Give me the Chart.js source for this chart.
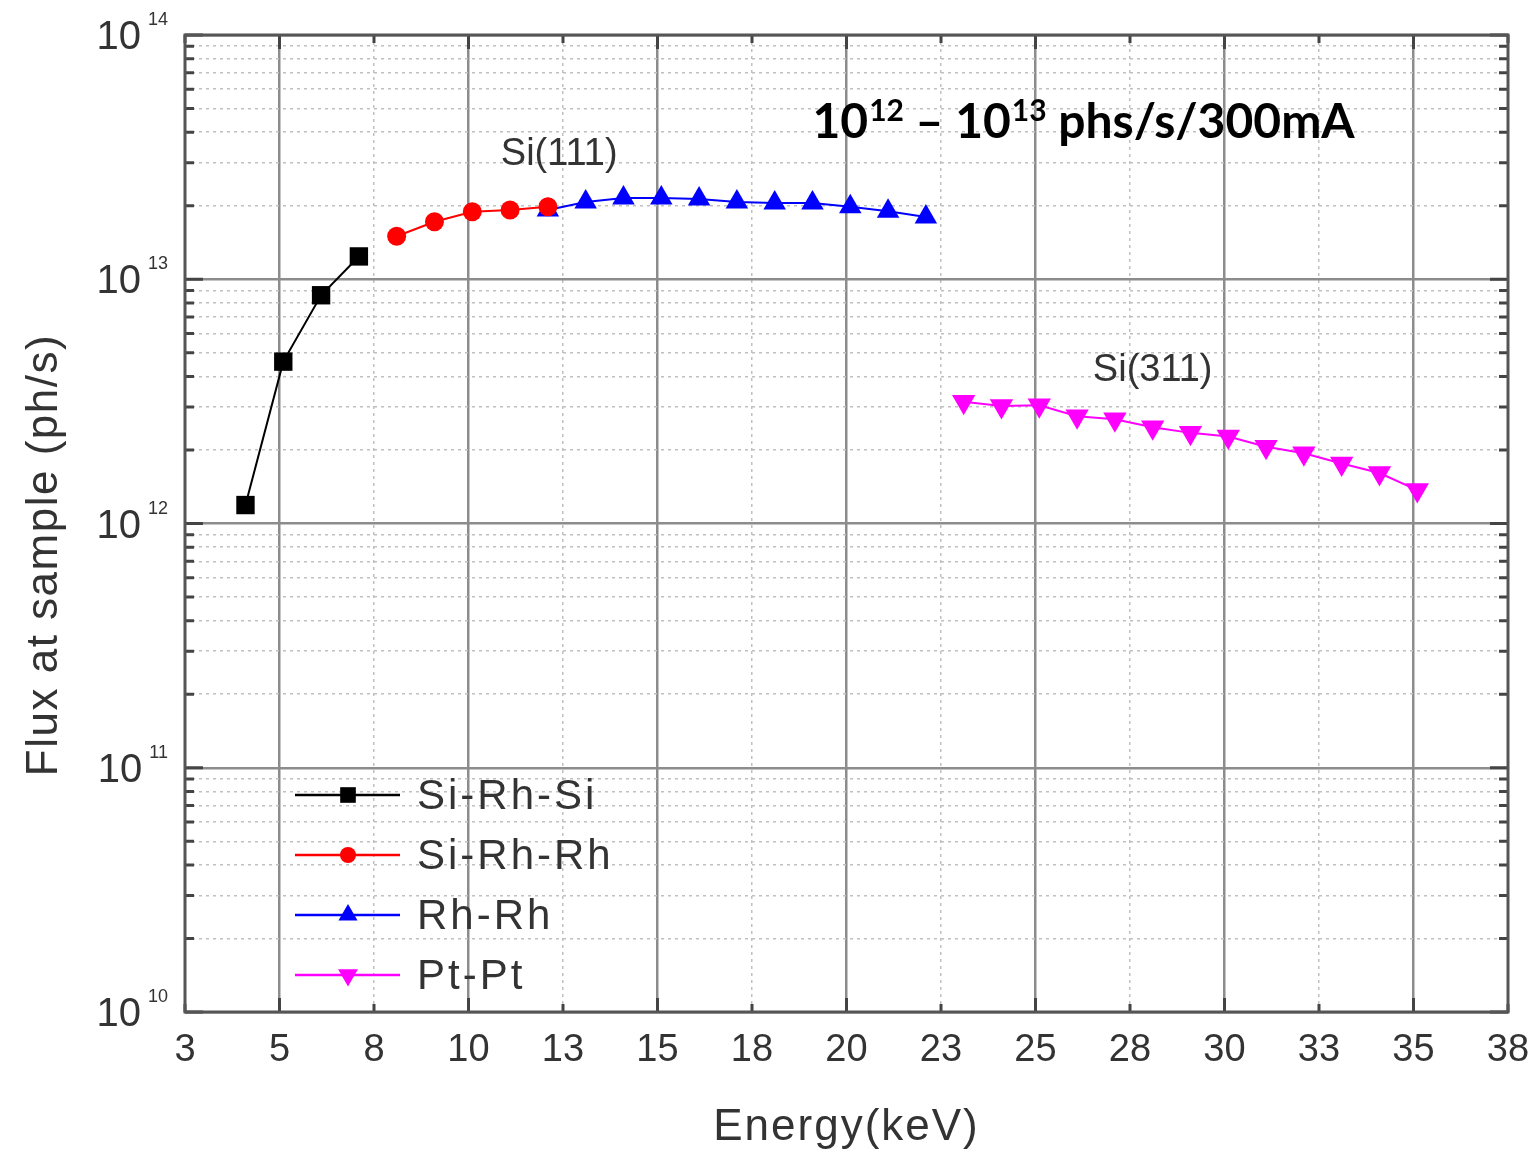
<!DOCTYPE html>
<html>
<head>
<meta charset="utf-8">
<title>Flux at sample</title>
<script src="https://cdn.jsdelivr.net/npm/chart.js@4.4.1/dist/chart.umd.min.js"></script>
<style>
  html, body { margin: 0; padding: 0; background: #fff; }
  canvas { display: block; }
</style>
</head>
<body>
<canvas id="fluxChart" width="1537" height="1152"></canvas>
<script>
// values (energy in keV, flux in ph/s)
const siRhSiEnergy = [4.1, 5.1, 6.1, 7.1];
const siRhSiFlux = [1.19e12, 4.6e12, 8.6e12, 1.24e13];

const siRhRhEnergy = [8.1, 9.1, 10.1, 11.1, 12.1];
const siRhRhFlux = [1.5e13, 1.72e13, 1.89e13, 1.92e13, 1.98e13];

const rhRhEnergy = [12.1, 13.1, 14.1, 15.1, 16.1, 17.1, 18.1, 19.1, 20.1, 21.1, 22.1];
const rhRhFlux = [1.92e13, 2.07e13, 2.15e13, 2.15e13, 2.13e13, 2.07e13, 2.05e13, 2.05e13, 1.98e13, 1.9e13, 1.8e13];

const ptPtEnergy = [23.1, 24.1, 25.1, 26.1, 27.1, 28.1, 29.1, 30.1, 31.1, 32.1, 33.1, 34.1, 35.1];
const ptPtFlux = [3.15e12, 3.03e12, 3.05e12, 2.75e12, 2.67e12, 2.48e12, 2.35e12, 2.27e12, 2.06e12, 1.94e12, 1.76e12, 1.61e12, 1.37e12];

const seriesNames = ["Si-Rh-Si", "Si-Rh-Rh", "Rh-Rh", "Pt-Pt"];
const seriesColors = ["#000000", "#ff0000", "#0000ff", "#ff00ff"];

// axis ranges and ticks
const xMin = 2.5;
const xMax = 37.5;
const xStep = 2.5;
const yDecades = [10, 11, 12, 13, 14];

// text placed on the plot, in data coordinates
const crystalLabels = ["Si(111)", "Si(311)"];
const crystalLabelEnergy = [12.4, 28.1];
const crystalLabelFlux = [3.25e13, 4.25e12];
const rangeNoteEnergy = 19.1;
const rangeNoteFlux = 3.8e13;

const TEXT_COLOR = "#333333";
const SANS = "'Liberation Sans', Arial, sans-serif";

function toPoints(xs, ys) {
  return xs.map((x, i) => ({ x: x, y: ys[i] }));
}

function isDecade(v) {
  const l = Math.log10(v);
  return Math.abs(l - Math.round(l)) < 1e-9;
}

function isMajorX(v) {
  return Math.abs(v % 5) < 1e-9;
}

const markerStyles = [
  { pointStyle: "rect", radius: 13, rotation: 0 },
  { pointStyle: "circle", radius: 9.5, rotation: 0 },
  { pointStyle: "triangle", radius: 13, rotation: 0 },
  { pointStyle: "triangle", radius: 13.5, rotation: 180 },
];

function makeDataset(i, xs, ys) {
  return {
    label: seriesNames[i],
    data: toPoints(xs, ys),
    borderColor: seriesColors[i],
    backgroundColor: seriesColors[i],
    borderWidth: 2,
    pointStyle: markerStyles[i].pointStyle,
    pointRotation: markerStyles[i].rotation,
    pointRadius: markerStyles[i].radius,
    pointBorderWidth: 0,
    pointHoverRadius: markerStyles[i].radius,
    tension: 0,
  };
}

const decorPlugin = {
  id: "decor",
  afterDraw(chart) {
    const { ctx, chartArea, scales } = chart;
    const xs = scales.x;
    const ys = scales.y;
    const { left, right, top, bottom } = chartArea;

    ctx.save();

    // inward tick marks on all four sides
    ctx.strokeStyle = "#444";
    ctx.lineWidth = 3;
    ys.ticks.forEach((t) => {
      const y = ys.getPixelForValue(t.value);
      const len = isDecade(t.value) ? 18 : 9;
      ctx.beginPath();
      ctx.moveTo(left, y); ctx.lineTo(left + len, y);
      ctx.moveTo(right, y); ctx.lineTo(right - len, y);
      ctx.stroke();
    });
    xs.ticks.forEach((t) => {
      const x = xs.getPixelForValue(t.value);
      const len = isMajorX(t.value) ? 14 : 8;
      ctx.beginPath();
      ctx.moveTo(x, bottom); ctx.lineTo(x, bottom - len);
      ctx.moveTo(x, top); ctx.lineTo(x, top + len);
      ctx.stroke();
    });

    // frame
    ctx.strokeStyle = "#555";
    ctx.lineWidth = 3;
    ctx.strokeRect(left, top, right - left, bottom - top);

    // y tick labels with superscript exponents
    ctx.fillStyle = TEXT_COLOR;
    ctx.textBaseline = "alphabetic";
    ctx.textAlign = "left";
    yDecades.forEach((e) => {
      const y = ys.getPixelForValue(Math.pow(10, e));
      ctx.font = `40px ${SANS}`;
      const baseW = ctx.measureText("10").width;
      ctx.font = `18px ${SANS}`;
      const expW = ctx.measureText(String(e)).width;
      const x0 = 168 - expW - 7 - baseW;
      ctx.font = `40px ${SANS}`;
      ctx.fillText("10", x0, y + 14);
      ctx.font = `18px ${SANS}`;
      ctx.fillText(String(e), x0 + baseW + 7, y - 10);
    });

    // crystal labels
    ctx.font = `38px ${SANS}`;
    ctx.textAlign = "center";
    ctx.textBaseline = "middle";
    crystalLabels.forEach((txt, i) => {
      ctx.fillText(txt, xs.getPixelForValue(crystalLabelEnergy[i]), ys.getPixelForValue(crystalLabelFlux[i]));
    });

    // flux range note
    ctx.fillStyle = "#000";
    ctx.textAlign = "left";
    ctx.textBaseline = "alphabetic";
    const noteFont = "Lato, 'Open Sans', sans-serif";
    let nx = xs.getPixelForValue(rangeNoteEnergy);
    const ny = ys.getPixelForValue(rangeNoteFlux);
    const parts = [["10", "12"], [" \u2013 10", "13"]];
    parts.forEach(([b, s]) => {
      ctx.font = `bold 48px ${noteFont}`;
      ctx.fillText(b, nx, ny);
      nx += ctx.measureText(b).width;
      ctx.font = `bold 30px ${noteFont}`;
      ctx.fillText(s, nx + 1, ny - 17);
      nx += ctx.measureText(s).width + 1;
    });
    ctx.font = `bold 48px ${noteFont}`;
    ctx.fillText(" phs/s/300mA", nx, ny);

    // legend inside the plot
    ctx.font = `42px ${SANS}`;
    ctx.letterSpacing = "3px";
    ctx.textBaseline = "middle";
    seriesNames.forEach((name, i) => {
      const rowY = 795 + i * 60;
      ctx.strokeStyle = seriesColors[i];
      ctx.fillStyle = seriesColors[i];
      ctx.lineWidth = 2.5;
      ctx.beginPath();
      ctx.moveTo(295, rowY);
      ctx.lineTo(400, rowY);
      ctx.stroke();
      Chart.helpers.drawPoint(ctx, {
        pointStyle: markerStyles[i].pointStyle,
        rotation: markerStyles[i].rotation,
        radius: markerStyles[i].radius * 0.85,
        borderWidth: 0,
      }, 348, rowY);
      ctx.fillStyle = TEXT_COLOR;
      ctx.fillText(name, 417, rowY + 2);
    });

    // axis titles
    ctx.font = `44px ${SANS}`;
    ctx.letterSpacing = "2px";
    ctx.fillStyle = TEXT_COLOR;
    ctx.textAlign = "center";
    ctx.textBaseline = "middle";
    ctx.fillText("Energy(keV)", (left + right) / 2, 1128);

    ctx.translate(45, 555);
    ctx.rotate(-Math.PI / 2);
    ctx.letterSpacing = "1.5px";
    ctx.fillText("Flux at sample (ph/s)", 0, 0);

    ctx.restore();
  },
};

const ctx = document.getElementById("fluxChart").getContext("2d");
const fluxChart = new Chart(ctx, {
  type: "line",
  data: {
    datasets: [
      makeDataset(0, siRhSiEnergy, siRhSiFlux),
      makeDataset(1, siRhRhEnergy, siRhRhFlux),
      makeDataset(2, rhRhEnergy, rhRhFlux),
      makeDataset(3, ptPtEnergy, ptPtFlux),
    ],
  },
  options: {
    responsive: false,
    animation: false,
    devicePixelRatio: 1,
    layout: { padding: { top: 35, right: 29, left: 0, bottom: 0 } },
    plugins: {
      legend: { display: false },
      tooltip: { enabled: false },
    },
    scales: {
      x: {
        type: "linear",
        min: xMin,
        max: xMax,
        afterFit: (scale) => {
          scale.height = 140;
          scale.paddingLeft = 0;
          scale.paddingRight = 0;
        },
        ticks: {
          stepSize: xStep,
          color: TEXT_COLOR,
          font: { family: SANS, size: 38 },
          padding: 16,
          maxRotation: 0,
          autoSkip: false,
          callback: (v) => Math.round(v),
        },
        grid: {
          drawTicks: false,
          color: (c) => (c.tick && isMajorX(c.tick.value) ? "#8c8c8c" : "#c0c0c0"),
          lineWidth: (c) => (c.tick && isMajorX(c.tick.value) ? 2.5 : 1.5),
        },
        border: {
          display: false,
          dash: (c) => (c.tick && isMajorX(c.tick.value) ? [] : [3, 4]),
        },
      },
      y: {
        type: "logarithmic",
        min: Math.pow(10, yDecades[0]),
        max: Math.pow(10, yDecades[yDecades.length - 1]),
        afterFit: (scale) => {
          scale.width = 185;
          scale.paddingTop = 0;
          scale.paddingBottom = 0;
        },
        afterBuildTicks: (scale) => {
          const ticks = [];
          for (let e = yDecades[0]; e < yDecades[yDecades.length - 1]; e++) {
            for (let m = 1; m < 10; m++) ticks.push({ value: m * Math.pow(10, e) });
          }
          ticks.push({ value: Math.pow(10, yDecades[yDecades.length - 1]) });
          scale.ticks = ticks;
        },
        ticks: { display: false },
        grid: {
          drawTicks: false,
          color: (c) => (c.tick && isDecade(c.tick.value) ? "#8c8c8c" : "#c0c0c0"),
          lineWidth: (c) => (c.tick && isDecade(c.tick.value) ? 2.5 : 1.5),
        },
        border: {
          display: false,
          dash: (c) => (c.tick && isDecade(c.tick.value) ? [] : [3, 4]),
        },
      },
    },
  },
  plugins: [decorPlugin],
});
</script>
</body>
</html>
